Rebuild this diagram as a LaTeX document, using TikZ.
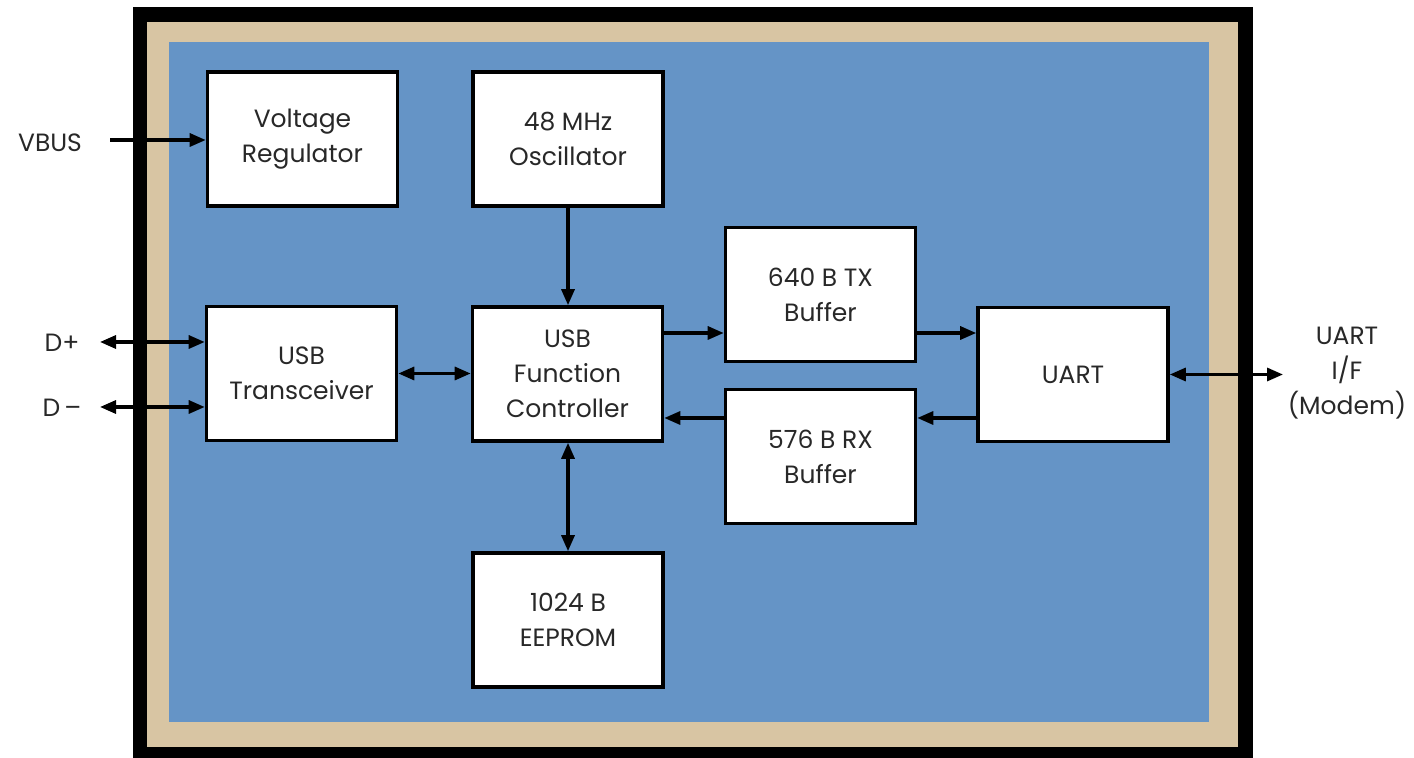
\documentclass[tikz,border=0pt]{standalone}
\usepackage{fontspec}
\setmainfont{Poppins}
\usetikzlibrary{arrows.meta,calc}
\definecolor{bgblue}{RGB}{101,148,198}
\definecolor{bgtan}{RGB}{216,197,163}
\definecolor{txt}{RGB}{40,40,40}
\tikzset{
  blk/.style={draw=black, fill=white, line width=1.8pt, minimum width=95pt, minimum height=67pt,
    align=center, font=\fontsize{12.5}{17.5}\selectfont, text=txt, inner sep=0pt},
  lbl/.style={align=center, font=\fontsize{12.5}{17.5}\selectfont, text=txt, inner sep=0pt},
  arr/.style={line width=1.6pt, -{Triangle[length=8pt,width=6.5pt]}},
  darr/.style={line width=1.6pt, {Triangle[length=8pt,width=6.5pt]}-{Triangle[length=8pt,width=6.5pt]}}
}
\begin{document}
\begin{tikzpicture}[x=0.5pt,y=-0.5pt]
\useasboundingbox (0,0) rectangle (1414,758);
% frames
\fill[black] (133,7) rectangle (1253,770);
\fill[bgtan] (147,22) rectangle (1238,747);
\fill[bgblue] (169,42) rectangle (1209,722);
% blocks
\node[blk] (vr) at (302.5,139) {Voltage\\Regulator};
\node[blk] (osc) at (568,139) {48 MHz\\Oscillator};
\node[blk] (trx) at (301.5,373.5) {USB\\Transceiver};
\node[blk] (ctrl) at (567.5,374) {USB\\Function\\Controller};
\node[blk] (tx) at (820.5,294.5) {640 B TX\\Buffer};
\node[blk] (rx) at (820.5,456.5) {576 B RX\\Buffer};
\node[blk] (uart) at (1073,374.5) {UART};
\node[blk] (eep) at (568,620) {1024 B\\EEPROM};
% external labels
\node[lbl] (vbus) at (50,143) {VBUS};
\node[lbl] (dp) at (62,343) {D+};
\node[lbl] (dm) at (62,408) {D\,\textendash};
\node[lbl] (uif) at (1347,373) {UART\\I/F\\(Modem)};
% coordinates
\coordinate (vbusend) at (110,140);
\coordinate (dpend) at (100,342);
\coordinate (dmend) at (100,407);
\coordinate (uifend) at (1283,375);
\coordinate (ytx) at (0,333);
\coordinate (yrx) at (0,418);
% connectors
\draw[arr] (vbusend) -- (vr.west |- vbusend);
\draw[darr] (dpend) -- (trx.west |- dpend);
\draw[darr] (dmend) -- (trx.west |- dmend);
\draw[darr] (trx.east) -- (ctrl.west |- trx.east);
\draw[arr] (osc.south) -- (ctrl.north -| osc.south);
\draw[arr] (ctrl.east |- ytx) -- (tx.west |- ytx);
\draw[arr] (tx.east |- ytx) -- (uart.west |- ytx);
\draw[arr] (uart.west |- yrx) -- (rx.east |- yrx);
\draw[arr] (rx.west |- yrx) -- (ctrl.east |- yrx);
\draw[darr] (ctrl.south -| eep.north) -- (eep.north);
\draw[darr] (uart.east) -- (uifend |- uart.east);
\end{tikzpicture}
\end{document}
